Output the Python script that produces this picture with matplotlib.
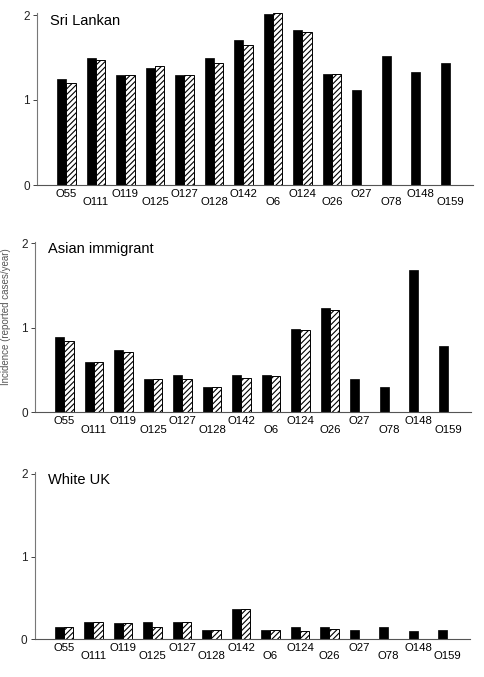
import matplotlib
matplotlib.use("Agg")
import matplotlib.pyplot as plt
import numpy as np

plt.rcParams['font.family'] = ['Liberation Sans', 'DejaVu Sans']
plt.rcParams['hatch.linewidth'] = 0.8

serogroups = ["O55", "O111", "O119", "O125", "O127", "O128", "O142",
              "O6", "O124", "O26", "O27", "O78", "O148", "O159"]

panel_titles = ["Sri Lankan", "Asian immigrant", "White UK"]

# black (solid) bars
sri_solid = [1.25, 1.49, 1.29, 1.38, 1.29, 1.50, 1.71, 2.01, 1.82, 1.31, 1.12, 1.52, 1.33, 1.43]
asian_solid = [0.89, 0.60, 0.74, 0.39, 0.44, 0.30, 0.44, 0.44, 0.99, 1.23, 0.39, 0.30, 1.68, 0.79]
white_solid = [0.15, 0.21, 0.20, 0.21, 0.21, 0.105, 0.36, 0.105, 0.15, 0.15, 0.105, 0.15, 0.10, 0.105]

# hatched bars (None = no bar)
sri_hatch = [1.20, 1.47, 1.29, 1.40, 1.29, 1.44, 1.65, 2.02, 1.80, 1.31, None, None, None, None]
asian_hatch = [0.84, 0.60, 0.71, 0.39, 0.40, 0.30, 0.41, 0.43, 0.97, 1.21, None, None, None, None]
white_hatch = [0.15, 0.21, 0.20, 0.15, 0.21, 0.105, 0.36, 0.105, 0.10, 0.125, None, None, None, None]

y_label = "Incidence (reported cases/year)"

solids = [sri_solid, asian_solid, white_solid]
hatches = [sri_hatch, asian_hatch, white_hatch]

W, H = 484, 677
fig = plt.figure(figsize=(W / 100, H / 100), dpi=100)

# panel boxes in pixels: left, right, y0 pixel, pixels per unit
boxes = [(37, 473, 185, 85.0), (35, 471, 412.3, 84.5), (34.5, 470.5, 639, 82.5)]
ytop = 2.02
bw = 0.316

x = np.arange(len(serogroups))
for i, (title, s, h) in enumerate(zip(panel_titles, solids, hatches)):
    left, right, y0, ppu = boxes[i]
    top = y0 - ytop * ppu
    ax = fig.add_axes([left / W, 1 - y0 / H, (right - left) / W, (y0 - top) / H])
    ax.bar(x - bw / 2, s, width=bw, color='black', edgecolor='black', linewidth=0.5)
    hx = [xi + bw / 2 for xi, v in zip(x, h) if v is not None]
    hv = [v for v in h if v is not None]
    ax.bar(hx, hv, width=bw, color='white', edgecolor='black', hatch='//////', linewidth=0.7)
    ax.set_xlim(-1.0, 13.78)
    ax.set_ylim(0, ytop)
    ax.set_yticks([0, 1, 2])
    ax.set_yticklabels(["0", "1", "2"], fontsize=8.5)
    even = x[::2]
    odd = x[1::2]
    ax.set_xticks(even)
    ax.set_xticklabels([serogroups[j] for j in even], fontsize=8.2)
    ax.set_xticks(odd, minor=True)
    ax.set_xticklabels([serogroups[j] for j in odd], minor=True, fontsize=8.2)
    ax.tick_params(axis='x', which='major', length=0, pad=2.8)
    ax.tick_params(axis='x', which='minor', length=0, pad=8.8)
    ax.tick_params(axis='y', length=3, width=0.6, pad=2, colors='#222222')
    for sp in ['top', 'right']:
        ax.spines[sp].set_visible(False)
    ax.spines['left'].set_color('#777777')
    ax.spines['left'].set_linewidth(0.8)
    ax.spines['bottom'].set_color('#555555')
    ax.spines['bottom'].set_linewidth(0.8)
    ax.text(13 / (right - left), 1 - 7.5 / (y0 - top), title, transform=ax.transAxes,
            fontsize=10.5, va='center', ha='left')

fig.text(1 / W, 1 - 317 / H, y_label, rotation=90, ha='left', va='center',
         fontsize=7, color='#555555')

fig.savefig("out.png", dpi=100)
